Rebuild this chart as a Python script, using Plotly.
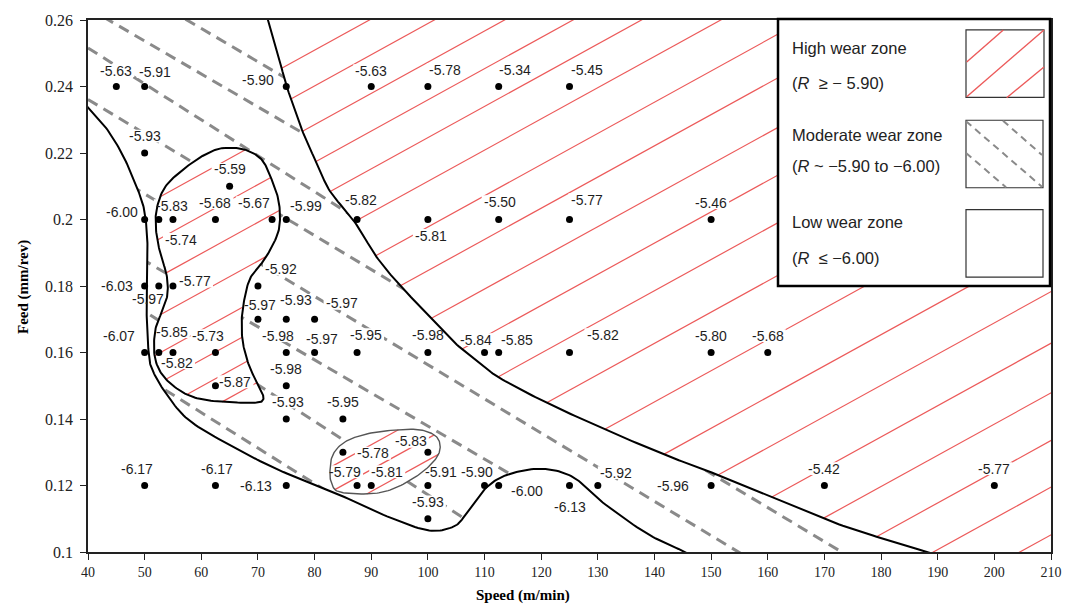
import numpy as np
import plotly.graph_objects as go

# ---------------- data ----------------
speed = [45, 50, 75, 90, 100, 112.5, 125,
         50,
         65,
         50, 52.5, 55, 62.5, 72.5, 75, 87.5, 100, 112.5, 125, 150,
         50, 52.5, 55, 70,
         70, 75, 80,
         50, 52.5, 55, 62.5, 75, 80, 87.5, 100, 110, 112.5, 125, 150, 160,
         62.5, 75,
         75, 85,
         85, 100,
         50, 62.5, 75, 87.5, 90, 100, 110, 112.5, 125, 130, 150, 170, 200,
         100]
feed = [0.24, 0.24, 0.24, 0.24, 0.24, 0.24, 0.24,
        0.22,
        0.21,
        0.20, 0.20, 0.20, 0.20, 0.20, 0.20, 0.20, 0.20, 0.20, 0.20, 0.20,
        0.18, 0.18, 0.18, 0.18,
        0.17, 0.17, 0.17,
        0.16, 0.16, 0.16, 0.16, 0.16, 0.16, 0.16, 0.16, 0.16, 0.16, 0.16, 0.16, 0.16,
        0.15, 0.15,
        0.14, 0.14,
        0.13, 0.13,
        0.12, 0.12, 0.12, 0.12, 0.12, 0.12, 0.12, 0.12, 0.12, 0.12, 0.12, 0.12, 0.12,
        0.11]
wear = [-5.63, -5.91, -5.90, -5.63, -5.78, -5.34, -5.45,
        -5.93,
        -5.59,
        -6.00, -5.83, -5.74, -5.68, -5.67, -5.99, -5.82, -5.81, -5.50, -5.77, -5.46,
        -6.03, -5.97, -5.77, -5.92,
        -5.97, -5.93, -5.97,
        -6.07, -5.85, -5.82, -5.73, -5.98, -5.97, -5.95, -5.98, -5.84, -5.85, -5.82, -5.80, -5.68,
        -5.87, -5.98,
        -5.93, -5.95,
        -5.78, -5.83,
        -6.17, -6.17, -6.13, -5.79, -5.81, -5.91, -5.90, -6.00, -6.13, -5.92, -5.96, -5.42, -5.77,
        -5.93]

# label placement (pixel offsets of label centre from its point) - styling only
label_dx = [0, 10, -28, 0, 17, 16, 17,
            0,
            0,
            -23, 13, 8, 0, -18, 20, 4, 3, 1, 17, 0,
            -28, -11, 22, 23,
            2, 10, 27,
            -26, 13, 4, -7, -8, 7, 9, 0, -9, 18, 33, 0, 0,
            20, 0,
            2, 0,
            30, -17,
            -8, 2, -30, -12, 16, 13, -8, 28, 0, 18, -38, 0, 0,
            0]
label_dy = [-16, -15, -7, -16, -17, -17, -17,
            -17,
            -17,
            -8, -14, 20, -17, -17, -14, -20, 16, -18, -20, -17,
            0, 13, -5, -17,
            -14, -19, -16,
            -17, -21, 10, -17, -17, -14, -18, -18, -13, -13, -18, -17, -17,
            -4, -17,
            -17, -17,
            1, -11,
            -17, -17, 0, -14, -14, -14, -14, 5, 21, -13, 0, -17, -17,
            -17]

x_tick_vals = [40, 50, 60, 70, 80, 90, 100, 110, 120, 130, 140, 150, 160, 170, 180, 190, 200, 210]
y_tick_vals = [0.10, 0.12, 0.14, 0.16, 0.18, 0.20, 0.22, 0.24, 0.26]
y_tick_text = ["0.1", "0.12", "0.14", "0.16", "0.18", "0.2", "0.22", "0.24", "0.26"]

# zone boundaries (speed, feed)
high_bound_speed = [71.07, 71.8, 73.53, 75.07, 78.0, 80.65, 82.72, 87.13, 90.96, 95.07, 100.67,
                    104.48, 109.2, 112.73, 120.97, 131.26, 142.15, 150.1, 169.8, 179.2, 188.1, 192.2]
high_bound_feed = [0.2642, 0.26, 0.2499, 0.2401, 0.2260, 0.2160, 0.2085, 0.1991, 0.1887, 0.1802, 0.1702,
                   0.1633, 0.1568, 0.1523, 0.1449, 0.1369, 0.1290, 0.1239, 0.1101, 0.1046, 0.1, 0.0979]

low_bound_speed = [38.59, 40, 43.0, 45.95, 48.30, 49.76, 50.36, 50.50, 50.36, 50.36, 50.64, 51.24, 53.89,
                   58.0, 65.95, 73.89, 82.72, 91.55, 99.79, 104.49, 106.85, 110.38, 114.49, 120.37,
                   125.67, 130.38, 138.62, 145.4, 148.03]
low_bound_feed = [0.2364, 0.2337, 0.2280, 0.2200, 0.2110, 0.2041, 0.1971, 0.1901, 0.1782, 0.1713, 0.1613,
                  0.1553, 0.1474, 0.1394, 0.1313, 0.1245, 0.1185, 0.1116, 0.1066, 0.1076, 0.1116, 0.1195,
                  0.1235, 0.1250, 0.1225, 0.1155, 0.1056, 0.1, 0.0976]

island_speed = [64.18, 67.71, 70.66, 72.43, 73.59, 73.89, 73.36, 71.24, 68.60, 67.41, 67.13, 67.41, 68.60,
                70.36, 70.94, 69.18, 62.12, 57.42, 53.59, 51.83, 51.83, 53.01, 54.0, 53.89, 52.71, 52.0,
                52.18, 53.89, 58.31, 61.84]
island_feed = [0.2215, 0.2210, 0.2180, 0.2120, 0.2061, 0.2001, 0.1951, 0.1882, 0.1822, 0.1742, 0.1683,
               0.1623, 0.1553, 0.1493, 0.1459, 0.1449, 0.1454, 0.1474, 0.1523, 0.1583, 0.1663, 0.1722,
               0.1772, 0.1832, 0.1901, 0.1971, 0.2036, 0.2104, 0.2170, 0.2205]

pocket_speed = [82.72, 83.30, 85.67, 90.36, 97.42, 100.95, 102.14, 101.55, 98.61, 93.89, 89.78, 84.48, 83.02]
pocket_feed = [0.1245, 0.1295, 0.1334, 0.1359, 0.1369, 0.1354, 0.1324, 0.1284, 0.1235, 0.1190, 0.1175,
               0.1180, 0.1205]

# moderate-zone dashed guide lines: (speed0, feed0, speed1, feed1)
dash_lines = [(54.47, 0.2630, 77.42, 0.2400),
              (40.00, 0.2636, 80.95, 0.2230),
              (40.00, 0.2516, 88.01, 0.1997),
              (40.00, 0.2361, 176.28, 0.0967),
              (42.12, 0.2158, 157.74, 0.0970),
              (43.88, 0.1937, 117.99, 0.1200),
              (45.65, 0.1772, 107.43, 0.1090),
              (50.94, 0.1516, 95.07, 0.1045)]

# hatch line offsets (pixel intercepts y + 0.555x) - styling only
hatch_high = [221, 257, 296, 334, 372, 416, 462, 506, 556, 604, 652, 705, 764, 822, 873, 925, 975,
              1023, 1070, 1118]
hatch_island = [283, 325, 363, 402, 440, 470, 497, 524]
hatch_pocket = [650, 675, 697]

# ---------------- geometry helpers ----------------
X0, X1 = 40, 210
Y0, Y1 = 0.10, 0.26
FIG_W, FIG_H = 1079, 606
M_L, M_R, M_T, M_B = 88, 28, 16, 54
PW = FIG_W - M_L - M_R
PH = FIG_H - M_T - M_B


def d2p(x, y):
    x = np.asarray(x, float)
    y = np.asarray(y, float)
    return M_L + (x - X0) / (X1 - X0) * PW, M_T + (Y1 - y) / (Y1 - Y0) * PH


def p2d(px, py):
    px = np.asarray(px, float)
    py = np.asarray(py, float)
    return X0 + (px - M_L) / PW * (X1 - X0), Y1 - (py - M_T) / PH * (Y1 - Y0)


def p2paper(px, py):
    return (px - M_L) / PW, (M_T + PH - py) / PH


def smooth(xs, ys, closed=False, n=14):
    px, py = d2p(xs, ys)
    P = np.column_stack([px, py])
    if closed:
        E = np.vstack([P[-1], P, P[0], P[1]])
    else:
        E = np.vstack([2 * P[0] - P[1], P, 2 * P[-1] - P[-2]])
    out = []
    t = np.linspace(0, 1, n, endpoint=False)[:, None]
    for i in range(1, len(E) - 2):
        p0, p1, p2, p3 = E[i - 1], E[i], E[i + 1], E[i + 2]
        seg = 0.5 * ((2 * p1) + (-p0 + p2) * t + (2 * p0 - 5 * p1 + 4 * p2 - p3) * t ** 2
                     + (-p0 + 3 * p1 - 3 * p2 + p3) * t ** 3)
        out.append(seg)
    out.append((P[0] if closed else P[-1])[None])
    return np.vstack(out)


def hatch(poly, cs, s):
    P = poly
    Q = np.roll(P, -1, axis=0)
    segs = []
    for c in cs:
        fa = P[:, 1] + s * P[:, 0] - c
        fb = Q[:, 1] + s * Q[:, 0] - c
        m = (fa < 0) != (fb < 0)
        if not m.any():
            continue
        tt = fa[m] / (fa[m] - fb[m])
        xs = np.sort(P[m, 0] + tt * (Q[m, 0] - P[m, 0]))
        for i in range(0, len(xs) - 1, 2):
            segs.append((xs[i], c - s * xs[i], xs[i + 1], c - s * xs[i + 1]))
    return segs


curveA = smooth(high_bound_speed, high_bound_feed)
curveB = smooth(low_bound_speed, low_bound_feed)
curveC = smooth(island_speed, island_feed, closed=True)
curveD = smooth(pocket_speed, pocket_feed, closed=True)

poly_high = np.vstack([curveA, [[1200, 700], [1200, -100], [curveA[0, 0], -100]]])
poly_low = np.vstack([curveB, [[curveB[-1, 0], 700], [0, 700], [0, curveB[0, 1]]]])

fig = go.Figure()

# dashed guide lines
dxs, dys = [], []
for (a, b, c, d) in dash_lines:
    dxs += [a, c, None]
    dys += [b, d, None]
fig.add_trace(go.Scatter(x=dxs, y=dys, mode='lines', hoverinfo='skip',
                         line=dict(color='#8a8a8a', width=3, dash='11px,7px')))

# white zone fills (mask dashed lines)
for poly in [poly_low, poly_high, curveC, curveD]:
    fx, fy = p2d(poly[:, 0], poly[:, 1])
    fig.add_trace(go.Scatter(x=list(fx), y=list(fy), mode='lines', fill='toself',
                             fillcolor='white', line=dict(width=0), hoverinfo='skip'))

# red hatching
slope = 0.555
segs = []
for poly, cs in [(poly_high, hatch_high), (curveC, hatch_island), (curveD, hatch_pocket)]:
    segs += hatch(poly, cs, slope)
hx, hy = [], []
for (xa, ya, xb, yb) in segs:
    sx_, sy_ = p2d([xa, xb], [ya, yb])
    hx += [float(sx_[0]), float(sx_[1]), None]
    hy += [float(sy_[0]), float(sy_[1]), None]
fig.add_trace(go.Scatter(x=hx, y=hy, mode='lines', hoverinfo='skip',
                         line=dict(color='#ec5a5a', width=1.2)))

# white label backgrounds
bx, by = [], []
ppx, ppy = d2p(speed, feed)
for i, w in enumerate(wear):
    cx = ppx[i] + label_dx[i]
    cy = ppy[i] + label_dy[i]
    txt = f"{w:.2f}"
    hw = 3.4 * len(txt) + 1
    hh = 6.5
    rx = [cx - hw, cx + hw, cx + hw, cx - hw, cx - hw]
    ry = [cy - hh, cy - hh, cy + hh, cy + hh, cy - hh]
    sx, sy = p2d(rx, ry)
    bx += list(sx) + [None]
    by += list(sy) + [None]
fig.add_trace(go.Scatter(x=bx, y=by, mode='lines', fill='toself', fillcolor='white',
                         line=dict(width=0), hoverinfo='skip'))

# boundary curves
for crv, col, wd in [(curveA, 'black', 2), (curveB, 'black', 2), (curveC, 'black', 2), (curveD, '#555555', 1.4)]:
    cx_, cy_ = p2d(crv[:, 0], crv[:, 1])
    fig.add_trace(go.Scatter(x=list(cx_), y=list(cy_), mode='lines', hoverinfo='skip',
                             line=dict(color=col, width=wd)))

# data points
fig.add_trace(go.Scatter(x=speed, y=feed, mode='markers',
                         marker=dict(color='black', size=7), cliponaxis=False))

annotations = []
for i, w in enumerate(wear):
    annotations.append(dict(x=speed[i], y=feed[i], xref='x', yref='y', text=f"{w:.2f}",
                            showarrow=False, xshift=label_dx[i], yshift=-label_dy[i],
                            xanchor='center', yanchor='middle',
                            font=dict(family='Liberation Sans, Arial', size=14, color='#1e1e1e')))

# axis titles
tx, ty = p2paper(523, 596)
annotations.append(dict(x=tx, y=ty, xref='paper', yref='paper', showarrow=False,
                        xanchor='center', yanchor='middle',
                        text='<b>Speed (m/min)</b>',
                        font=dict(family='Liberation Serif, Times New Roman', size=15, color='black')))
tx, ty = p2paper(24, 285)
annotations.append(dict(x=tx, y=ty, xref='paper', yref='paper', showarrow=False, textangle=-90,
                        xanchor='center', yanchor='middle',
                        text='<b>Feed (mm/rev)</b>',
                        font=dict(family='Liberation Serif, Times New Roman', size=15, color='black')))

# legend box
shapes = []
lx0, ly0 = p2paper(778, 284)
lx1, ly1 = p2paper(1050, 15)
shapes.append(dict(type='rect', xref='paper', yref='paper', x0=lx0, y0=ly0, x1=lx1, y1=ly1,
                   fillcolor='white', line=dict(color='black', width=2.5), layer='above'))
for (a, b, c, d) in [(966, 26, 1044, 94), (966, 117, 1043, 185), (966, 207, 1043, 275)]:
    x0_, y0_ = p2paper(a, d)
    x1_, y1_ = p2paper(c, b)
    shapes.append(dict(type='rect', xref='paper', yref='paper', x0=x0_, y0=y0_, x1=x1_, y1=y1_,
                       fillcolor='white', line=dict(color='#333333', width=1.2), layer='above'))
for (a, b, c, d) in [(966.7, 58.3, 1003.3, 26), (966.7, 93.3, 1044, 26), (1006.7, 94.3, 1044, 63.3)]:
    x0_, y0_ = p2paper(a, b)
    x1_, y1_ = p2paper(c, d)
    shapes.append(dict(type='line', xref='paper', yref='paper', x0=x0_, y0=y0_, x1=x1_, y1=y1_,
                       line=dict(color='#ec5a5a', width=1.4), layer='above'))
for (a, b, c, d) in [(966, 118, 1042, 184), (1003, 117.5, 1042, 152), (966, 150, 1006, 184.5)]:
    x0_, y0_ = p2paper(a, b)
    x1_, y1_ = p2paper(c, d)
    shapes.append(dict(type='line', xref='paper', yref='paper', x0=x0_, y0=y0_, x1=x1_, y1=y1_,
                       line=dict(color='#8a8a8a', width=2, dash='7px,5px'), layer='above'))

legend_texts = [("High wear zone", 44), ("(<i>R</i>  ≥ − 5.90)", 79),
                ("Moderate wear zone", 132), ("(<i>R</i> ~ −5.90 to −6.00)", 163),
                ("Low wear zone", 220), ("(<i>R</i>  ≤ −6.00)", 256)]
for txt, yy in legend_texts:
    ax_, ay_ = p2paper(790, yy)
    annotations.append(dict(x=ax_, y=ay_, xref='paper', yref='paper', text=txt, showarrow=False,
                            xanchor='left', yanchor='middle',
                            font=dict(family='Liberation Sans Narrow, Liberation Sans, Arial', size=16.5,
                                      color='#222222')))

fig.update_layout(
    width=FIG_W, height=FIG_H,
    margin=dict(l=M_L, r=M_R, t=M_T, b=M_B),
    plot_bgcolor='white', paper_bgcolor='white',
    showlegend=False,
    annotations=annotations,
    shapes=shapes,
    xaxis=dict(range=[X0, X1], tickvals=x_tick_vals, showgrid=False, zeroline=False,
               showline=True, linecolor='#222222', linewidth=1.5, mirror=True,
               ticks='outside', ticklen=6, tickcolor='#222222',
               tickfont=dict(family='Liberation Serif, Times New Roman', size=14, color='#222')),
    yaxis=dict(range=[Y0, Y1], tickvals=y_tick_vals, ticktext=y_tick_text, showgrid=False, zeroline=False,
               showline=True, linecolor='#222222', linewidth=1.5, mirror=True,
               ticks='outside', ticklen=6, tickcolor='#222222', ticklabelstandoff=4,
               tickfont=dict(family='Liberation Serif, Times New Roman', size=16, color='#222')),
)

fig.write_html("out.html")
